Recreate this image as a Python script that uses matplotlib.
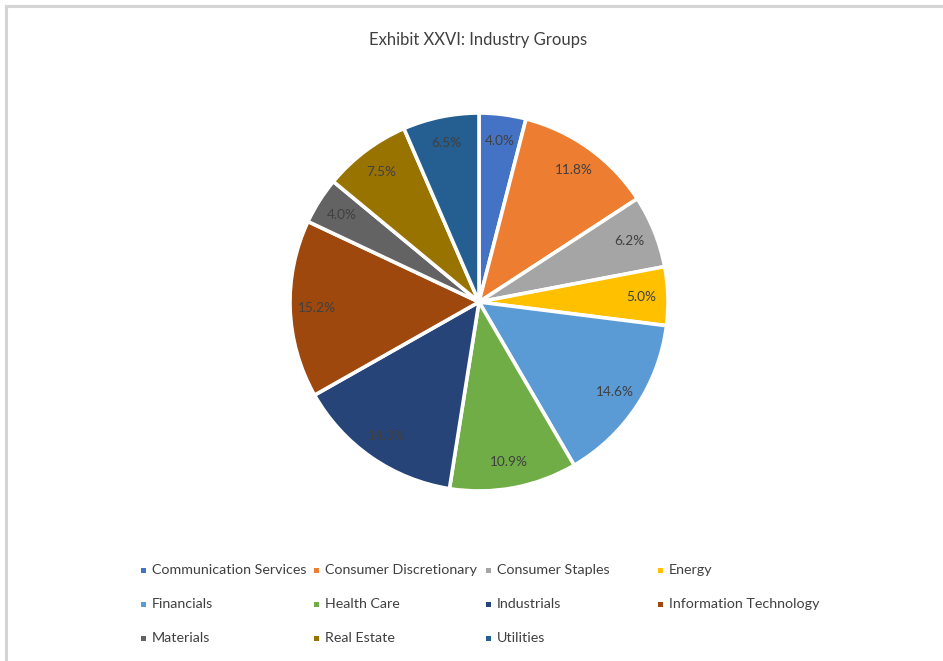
import matplotlib
matplotlib.use("Agg")
import matplotlib.pyplot as plt
from matplotlib.lines import Line2D
from matplotlib.patches import Rectangle

# Sector weights (%)
categories = [
    "Communication Services", "Consumer Discretionary", "Consumer Staples", "Energy",
    "Financials", "Health Care", "Industrials", "Information Technology",
    "Materials", "Real Estate", "Utilities",
]
weights = [4.0, 11.8, 6.2, 5.0, 14.6, 10.9, 14.3, 15.2, 4.0, 7.5, 6.5]
colors = [
    "#4472C4", "#ED7D31", "#A5A5A5", "#FFC000", "#5B9BD5", "#70AD47",
    "#264478", "#9E480E", "#636363", "#997300", "#255E91",
]
title = "Exhibit XXVI: Industry Groups"

plt.rcParams["font.family"] = ["Lato", "DejaVu Sans"]
TEXT = "#404040"

W, H = 943, 661
fig = plt.figure(figsize=(W / 100, H / 100), dpi=100)
fig.patch.set_facecolor("white")

# Chart frame (left and top edges visible)
fig.add_artist(Line2D([6 / W, 6 / W], [0, 1 - 6 / H], color="#D4D4D4", lw=2.2))
fig.add_artist(Line2D([6 / W, 1], [1 - 6 / H, 1 - 6 / H], color="#D4D4D4", lw=2.2))

# Pie axes
cx, cy, r = 479, 302, 189
ax = fig.add_axes([(cx - r) / W, (H - cy - r) / H, 2 * r / W, 2 * r / H])
wedges, texts, autotexts = ax.pie(
    weights,
    colors=colors,
    startangle=90,
    counterclock=False,
    autopct="%.1f%%",
    pctdistance=0.86,
    wedgeprops=dict(edgecolor="white", linewidth=2.6),
    textprops=dict(color=TEXT, fontsize=9.8),
)
ax.set_aspect("equal")
ax.set_xlim(-1.0, 1.0)
ax.set_ylim(-1.0, 1.0)
ax.axis("off")

fig.text(478 / W, 1 - 40 / H, title, ha="center", va="center",
         fontsize=12, color=TEXT)

# Legend: four equal-width columns, filled row by row
col_x = [143, 316, 488, 660]
row_y = [570, 604, 638]
for i, (name, c) in enumerate(zip(categories, colors)):
    row, col = divmod(i, 4)
    x, y = col_x[col], row_y[row]
    fig.add_artist(Rectangle(((x - 2.5) / W, 1 - (y + 2.5) / H), 5 / W, 5 / H,
                             facecolor=c, edgecolor="none",
                             transform=fig.transFigure))
    fig.text((x + 9) / W, 1 - y / H, name, ha="left", va="center",
             fontsize=10.3, color=TEXT)

fig.savefig("out.png", dpi=100, facecolor="white")
